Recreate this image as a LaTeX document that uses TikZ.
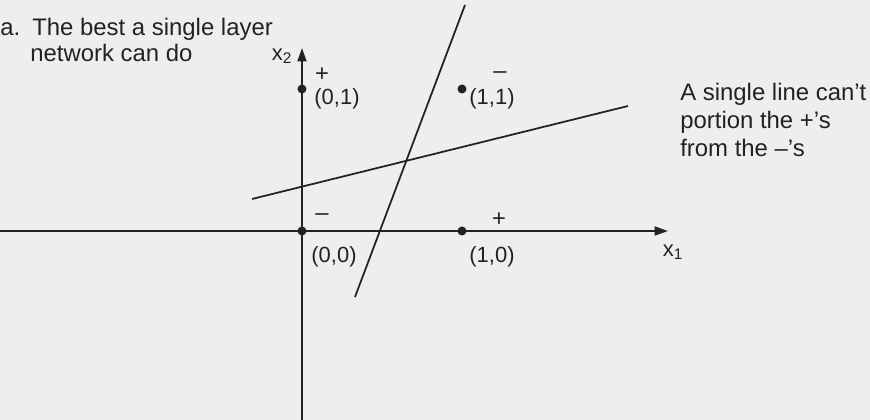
\documentclass[tikz,border=0pt]{standalone}
\usepackage{fontspec}
\setmainfont{Liberation Sans}
\usepackage{tikz}
\usetikzlibrary{arrows.meta, positioning}
\definecolor{scanink}{RGB}{34,34,34}
\definecolor{scanpaper}{RGB}{238,238,238}
\tikzset{
  axis/.style={line width=1.1pt, draw=scanink, -{Triangle[length=0.27cm, width=0.18cm]}},
  sepline/.style={line width=1pt, draw=scanink},
  dot/.style={circle, fill=scanink, inner sep=0pt, minimum size=0.18cm},
  lbl/.style={font=\fontsize{12.5}{14}\selectfont, text=scanink, inner sep=0pt},
  sign/.style={font=\fontsize{13.5}{14}\selectfont, text=scanink, inner sep=0pt},
  note/.style={font=\fontsize{13.6}{14.4}\selectfont, text=scanink, inner sep=0pt},
}

\begin{document}
\begin{tikzpicture}
  \fill [scanpaper] (-6.04,-3.78) rectangle (11.36,4.62);
  \useasboundingbox (-6.04,-3.78) rectangle (11.36,4.62);

  \coordinate (xstart) at (-6.04,0);
  \coordinate (xend)   at (7.32,0);
  \coordinate (ystart) at (0,-3.78);
  \coordinate (yend)   at (0,3.66);
  \coordinate (steepa) at (1.06,-1.32);
  \coordinate (steepb) at (3.26,4.52);
  \coordinate (flata)  at (-1.0,0.64);
  \coordinate (flatb)  at (6.52,2.5);

  \draw [axis] (xstart) -- (xend);
  \draw [axis] (ystart) -- (yend);
  \draw [sepline] (steepa) -- (steepb);
  \draw [sepline] (flata) -- (flatb);

  \node (p00) [dot] at (0,0)       {};
  \node (p10) [dot] at (3.2,0)     {};
  \node (p01) [dot] at (0,2.84)    {};
  \node (p11) [dot] at (3.2,2.84)  {};

  \node (l00) [lbl] at (0.64,-0.52) {(0,0)};
  \node (l10) [lbl] at (3.8,-0.52)  {(1,0)};
  \node (l01) [lbl] at (0.7,2.64)   {(0,1)};
  \node (l11) [lbl] at (3.8,2.64)   {(1,1)};

  \node (s00) [sign] at (0.4,0.28)  {–};
  \node (s10) [sign] at (3.94,0.22) {+};
  \node (s01) [sign] at (0.4,3.12)  {+};
  \node (s11) [sign] at (3.96,3.12) {–};

  \node (xone) [lbl] at (7.42,-0.42) {x\textsubscript{1}};
  \node (xtwo) [lbl] at (-0.4,3.5)   {x\textsubscript{2}};

  \node (tag)    [note, anchor=base west] at (-6.04,3.9)  {a.};
  \node (titlea) [note, anchor=base west] at (-5.40,3.9)  {The best a single layer};
  \node (titleb) [note, anchor=base west] at (-5.44,3.38) {network can do};

  \node (remark) [note, align=left, anchor=north west] at (7.56,2.97)
    {A single line can't\\[1.6pt]portion the +'s\\[1.6pt]from the –'s};
\end{tikzpicture}
\end{document}
